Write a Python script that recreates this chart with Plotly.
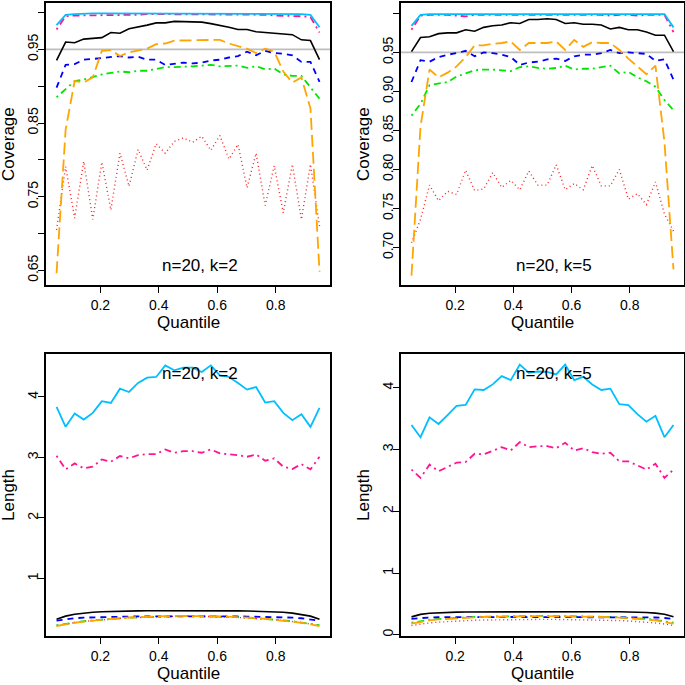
import plotly.graph_objects as go

# ---------------- data ----------------
quantile = [0.050, 0.081, 0.112, 0.143, 0.174, 0.205, 0.236, 0.267, 0.298, 0.329,
            0.360, 0.391, 0.422, 0.453, 0.484, 0.516, 0.547, 0.578, 0.609, 0.640,
            0.671, 0.702, 0.733, 0.764, 0.795, 0.826, 0.857, 0.888, 0.919, 0.950]

# Coverage, n=20, k=2
cov_k2_black = [0.935, 0.960, 0.959, 0.964, 0.965, 0.966, 0.973, 0.972, 0.978, 0.980,
                0.983, 0.986, 0.986, 0.988, 0.988, 0.988, 0.987, 0.985, 0.983, 0.980,
                0.977, 0.977, 0.974, 0.973, 0.971, 0.971, 0.970, 0.963, 0.962, 0.936]
cov_k2_red = [0.705, 0.791, 0.721, 0.798, 0.719, 0.797, 0.732, 0.809, 0.764, 0.814,
              0.786, 0.822, 0.809, 0.825, 0.830, 0.824, 0.832, 0.813, 0.833, 0.801,
              0.821, 0.762, 0.809, 0.738, 0.792, 0.728, 0.794, 0.719, 0.794, 0.710]
cov_k2_green = [0.885, 0.896, 0.907, 0.909, 0.913, 0.916, 0.918, 0.920, 0.919, 0.921,
                0.921, 0.923, 0.926, 0.926, 0.926, 0.927, 0.928, 0.929, 0.927, 0.927,
                0.928, 0.925, 0.927, 0.923, 0.924, 0.916, 0.914, 0.914, 0.898, 0.883]
cov_k2_blue = [0.898, 0.929, 0.930, 0.936, 0.937, 0.938, 0.939, 0.941, 0.939, 0.940,
               0.936, 0.936, 0.929, 0.931, 0.932, 0.931, 0.932, 0.935, 0.936, 0.939,
               0.941, 0.947, 0.942, 0.948, 0.945, 0.944, 0.942, 0.933, 0.933, 0.906]
cov_k2_orange = [0.646, 0.841, 0.907, 0.905, 0.912, 0.948, 0.949, 0.941, 0.946, 0.949,
                 0.951, 0.957, 0.958, 0.962, 0.962, 0.962, 0.963, 0.963, 0.963, 0.958,
                 0.954, 0.951, 0.945, 0.951, 0.947, 0.920, 0.905, 0.912, 0.870, 0.648]
cov_k2_pink = [0.977, 0.995, 0.996, 0.996, 0.997, 0.997, 0.997, 0.997, 0.997, 0.997,
               0.998, 0.998, 0.998, 0.998, 0.998, 0.998, 0.998, 0.998, 0.998, 0.998,
               0.997, 0.997, 0.997, 0.997, 0.996, 0.996, 0.996, 0.995, 0.994, 0.973]
cov_k2_cyan = [0.983, 0.997, 0.998, 0.999, 0.999, 0.999, 0.999, 0.999, 0.999, 0.999,
               0.999, 0.999, 0.999, 0.999, 0.999, 0.999, 0.999, 0.999, 0.999, 0.999,
               0.999, 0.999, 0.999, 0.999, 0.999, 0.999, 0.998, 0.998, 0.997, 0.980]

# Coverage, n=20, k=5
cov_k5_black = [0.951, 0.969, 0.970, 0.974, 0.975, 0.975, 0.979, 0.977, 0.982, 0.984,
                0.985, 0.988, 0.987, 0.992, 0.992, 0.993, 0.992, 0.987, 0.988, 0.986,
                0.986, 0.985, 0.980, 0.982, 0.979, 0.979, 0.976, 0.972, 0.972, 0.951]
cov_k5_red = [0.706, 0.736, 0.780, 0.760, 0.772, 0.768, 0.799, 0.773, 0.775, 0.796,
              0.777, 0.786, 0.774, 0.798, 0.780, 0.780, 0.806, 0.774, 0.782, 0.774,
              0.805, 0.779, 0.779, 0.800, 0.762, 0.769, 0.755, 0.784, 0.743, 0.721]
cov_k5_green = [0.869, 0.884, 0.908, 0.910, 0.912, 0.919, 0.923, 0.927, 0.928, 0.928,
                0.927, 0.926, 0.931, 0.932, 0.930, 0.929, 0.930, 0.933, 0.928, 0.929,
                0.929, 0.931, 0.933, 0.923, 0.925, 0.918, 0.913, 0.906, 0.889, 0.876]
cov_k5_blue = [0.912, 0.940, 0.938, 0.944, 0.947, 0.949, 0.952, 0.945, 0.950, 0.949,
               0.947, 0.944, 0.934, 0.937, 0.938, 0.941, 0.942, 0.939, 0.945, 0.947,
               0.947, 0.949, 0.953, 0.949, 0.950, 0.949, 0.948, 0.939, 0.941, 0.915]
cov_k5_orange = [0.664, 0.855, 0.928, 0.918, 0.924, 0.932, 0.944, 0.959, 0.959, 0.961,
                 0.962, 0.964, 0.953, 0.962, 0.962, 0.962, 0.964, 0.953, 0.966, 0.957,
                 0.963, 0.962, 0.962, 0.953, 0.942, 0.932, 0.922, 0.933, 0.835, 0.672]
cov_k5_pink = [0.979, 0.997, 0.998, 0.998, 0.998, 0.997, 0.996, 0.998, 0.998, 0.998,
               0.998, 0.998, 0.998, 0.998, 0.998, 0.998, 0.998, 0.998, 0.998, 0.998,
               0.998, 0.998, 0.997, 0.998, 0.998, 0.997, 0.998, 0.998, 0.998, 0.976]
cov_k5_cyan = [0.984, 0.998, 0.999, 0.999, 0.999, 0.999, 0.999, 0.999, 0.999, 0.999,
               0.999, 0.999, 0.999, 0.999, 0.999, 0.999, 0.999, 0.999, 0.999, 0.999,
               0.999, 0.999, 0.999, 0.999, 0.999, 0.999, 0.999, 0.999, 0.999, 0.982]

# Length, n=20, k=2
len_k2_black = [0.322, 0.375, 0.405, 0.425, 0.438, 0.447, 0.453, 0.457, 0.460, 0.462,
                0.464, 0.465, 0.466, 0.466, 0.467, 0.467, 0.466, 0.466, 0.465, 0.464,
                0.462, 0.460, 0.457, 0.453, 0.447, 0.438, 0.425, 0.405, 0.375, 0.322]
len_k2_red = [0.215, 0.245, 0.268, 0.287, 0.303, 0.317, 0.329, 0.339, 0.347, 0.354,
              0.360, 0.365, 0.369, 0.372, 0.374, 0.374, 0.372, 0.369, 0.365, 0.360,
              0.354, 0.347, 0.339, 0.329, 0.317, 0.303, 0.287, 0.268, 0.245, 0.215]
len_k2_green = [0.225, 0.250, 0.272, 0.290, 0.306, 0.320, 0.332, 0.342, 0.350, 0.357,
                0.363, 0.368, 0.372, 0.375, 0.377, 0.377, 0.375, 0.372, 0.368, 0.363,
                0.357, 0.350, 0.342, 0.332, 0.320, 0.306, 0.290, 0.272, 0.250, 0.225]
len_k2_blue = [0.300, 0.325, 0.340, 0.350, 0.356, 0.360, 0.363, 0.366, 0.368, 0.370,
               0.371, 0.372, 0.373, 0.373, 0.374, 0.374, 0.373, 0.373, 0.372, 0.371,
               0.370, 0.368, 0.366, 0.363, 0.360, 0.356, 0.350, 0.340, 0.325, 0.300]
len_k2_orange = [0.210, 0.240, 0.265, 0.285, 0.302, 0.318, 0.332, 0.343, 0.352, 0.360,
                 0.366, 0.371, 0.375, 0.378, 0.380, 0.380, 0.378, 0.375, 0.371, 0.366,
                 0.360, 0.352, 0.343, 0.332, 0.318, 0.302, 0.285, 0.265, 0.240, 0.210]
len_k2_pink = [3.027, 2.802, 2.901, 2.819, 2.846, 2.967, 2.929, 3.022, 2.984, 3.038,
               3.055, 3.055, 3.132, 3.077, 3.104, 3.104, 3.077, 3.132, 3.066, 3.055,
               3.038, 3.011, 3.049, 2.945, 2.984, 2.846, 2.808, 2.890, 2.802, 3.011]
len_k2_cyan = [3.835, 3.505, 3.725, 3.626, 3.736, 3.929, 3.901, 4.137, 4.082, 4.231,
               4.319, 4.330, 4.522, 4.440, 4.484, 4.484, 4.412, 4.522, 4.357, 4.330,
               4.231, 4.121, 4.165, 3.907, 3.929, 3.736, 3.615, 3.714, 3.505, 3.819]

# Length, n=20, k=5
len_k5_black = [0.290, 0.330, 0.348, 0.358, 0.364, 0.367, 0.369, 0.370, 0.370, 0.370,
                0.370, 0.370, 0.369, 0.369, 0.369, 0.369, 0.369, 0.369, 0.370, 0.370,
                0.371, 0.372, 0.373, 0.373, 0.372, 0.368, 0.362, 0.350, 0.332, 0.292]
len_k5_red = [0.150, 0.175, 0.192, 0.205, 0.215, 0.223, 0.230, 0.235, 0.239, 0.242,
              0.245, 0.247, 0.248, 0.249, 0.250, 0.250, 0.249, 0.248, 0.247, 0.245,
              0.242, 0.239, 0.235, 0.230, 0.223, 0.215, 0.205, 0.192, 0.175, 0.150]
len_k5_green = [0.195, 0.222, 0.242, 0.256, 0.267, 0.276, 0.283, 0.289, 0.293, 0.297,
                0.300, 0.302, 0.304, 0.305, 0.306, 0.306, 0.305, 0.304, 0.302, 0.300,
                0.297, 0.293, 0.289, 0.283, 0.276, 0.267, 0.256, 0.242, 0.222, 0.195]
len_k5_blue = [0.258, 0.272, 0.280, 0.284, 0.286, 0.287, 0.288, 0.288, 0.288, 0.288,
               0.288, 0.288, 0.288, 0.288, 0.288, 0.288, 0.288, 0.288, 0.288, 0.288,
               0.288, 0.288, 0.288, 0.288, 0.287, 0.286, 0.284, 0.280, 0.272, 0.258]
len_k5_orange = [0.180, 0.210, 0.232, 0.248, 0.260, 0.270, 0.278, 0.284, 0.289, 0.293,
                 0.296, 0.298, 0.300, 0.301, 0.302, 0.302, 0.301, 0.300, 0.298, 0.296,
                 0.293, 0.289, 0.284, 0.278, 0.270, 0.260, 0.248, 0.232, 0.210, 0.180]
len_k5_pink = [2.674, 2.540, 2.754, 2.647, 2.717, 2.786, 2.797, 2.930, 2.920, 2.973,
               3.037, 2.984, 3.118, 3.037, 3.053, 3.053, 3.021, 3.107, 2.984, 3.021,
               2.957, 2.930, 2.947, 2.807, 2.807, 2.743, 2.674, 2.770, 2.540, 2.674]
len_k5_cyan = [3.396, 3.198, 3.519, 3.412, 3.556, 3.706, 3.722, 3.973, 3.963, 4.053,
               4.187, 4.123, 4.374, 4.241, 4.262, 4.257, 4.214, 4.374, 4.123, 4.176,
               4.053, 3.963, 3.984, 3.733, 3.717, 3.572, 3.449, 3.545, 3.198, 3.396]

x_tick_vals = [0.2, 0.4, 0.6, 0.8]
x_tick_text = ["0.2", "0.4", "0.6", "0.8"]
cov_k2_tick_vals = [0.65, 0.70, 0.75, 0.80, 0.85, 0.90, 0.95, 1.00]
cov_k2_tick_text = ["0.65", "", "0.75", "", "0.85", "", "0.95", ""]
cov_k5_tick_vals = [0.70, 0.75, 0.80, 0.85, 0.90, 0.95, 1.00]
cov_k5_tick_text = ["0.70", "0.75", "0.80", "0.85", "0.90", "0.95", "1.00"]
len_k2_tick_vals = [1, 2, 3, 4]
len_k5_tick_vals = [0, 1, 2, 3, 4]
nominal_level = 0.95
panel_labels = ["n=20, k=2", "n=20, k=5", "n=20, k=2", "n=20, k=5"]

# ---------------- styles ----------------
FONT = "Liberation Sans, Arial, Helvetica, sans-serif"
styles = {
    "black": dict(color="#000000", dash="solid", width=1.6),
    "red": dict(color="#FF2020", dash="1px,3px", width=1.4),
    "green": dict(color="#00E600", dash="2px,4px,7px,4px", width=1.8),
    "blue": dict(color="#0000FF", dash="6px,5px", width=1.8),
    "orange": dict(color="#FFA500", dash="12px,5px", width=1.8),
    "pink": dict(color="#FF1493", dash="2px,4px,7px,4px", width=1.8),
    "cyan": dict(color="#00BFFF", dash="solid", width=1.8),
}
order = ["black", "red", "green", "blue", "orange", "pink", "cyan"]

panels = [
    dict(ax="", series=dict(black=cov_k2_black, red=cov_k2_red, green=cov_k2_green, blue=cov_k2_blue,
                            orange=cov_k2_orange, pink=cov_k2_pink, cyan=cov_k2_cyan),
         yrange=[0.630, 1.013], tv=cov_k2_tick_vals, tt=cov_k2_tick_text, label_y=0.657,
         xdom=[0.0672, 0.4818], ydom=[0.5839, 0.9956], ref=True),
    dict(ax="2", series=dict(black=cov_k5_black, red=cov_k5_red, green=cov_k5_green, blue=cov_k5_blue,
                             orange=cov_k5_orange, pink=cov_k5_pink, cyan=cov_k5_cyan),
         yrange=[0.652, 1.0132], tv=cov_k5_tick_vals, tt=cov_k5_tick_text, label_y=0.6765,
         xdom=[0.5854, 0.9985], ydom=[0.5839, 0.9956], ref=True),
    dict(ax="3", series=dict(black=len_k2_black, red=len_k2_red, green=len_k2_green, blue=len_k2_blue,
                             orange=len_k2_orange, pink=len_k2_pink, cyan=len_k2_cyan),
         yrange=[0.046, 4.71], tv=len_k2_tick_vals, tt=[str(v) for v in len_k2_tick_vals], label_y=4.387,
         xdom=[0.0672, 0.4818], ydom=[0.0715, 0.4832], ref=False),
    dict(ax="4", series=dict(black=len_k5_black, red=len_k5_red, green=len_k5_green, blue=len_k5_blue,
                             orange=len_k5_orange, pink=len_k5_pink, cyan=len_k5_cyan),
         yrange=[-0.02, 4.545], tv=len_k5_tick_vals, tt=[str(v) for v in len_k5_tick_vals], label_y=4.227,
         xdom=[0.5854, 0.9985], ydom=[0.0715, 0.4832], ref=False),
]

fig = go.Figure()
layout_axes = {}
annotations = []
shapes = []

for p, label in zip(panels, panel_labels):
    xa = "x" + p["ax"]
    ya = "y" + p["ax"]
    for name in order:
        st = styles[name]
        fig.add_trace(go.Scatter(
            x=quantile, y=p["series"][name], mode="lines", xaxis=xa, yaxis=ya,
            line=dict(color=st["color"], dash=st["dash"], width=st["width"]),
            showlegend=False, hoverinfo="skip"))
    if p["ref"]:
        shapes.append(dict(type="line", xref=xa + " domain", x0=0, x1=1,
                           yref=ya, y0=nominal_level, y1=nominal_level,
                           line=dict(color="#BEBEBE", width=1.6), layer="below"))
    layout_axes["xaxis" + p["ax"]] = dict(
        domain=p["xdom"], anchor=ya, range=[0.014, 0.986],
        tickmode="array", tickvals=x_tick_vals, ticktext=x_tick_text,
        ticks="outside", ticklen=6, tickwidth=1, tickcolor="#000",
        showline=True, mirror=True, linecolor="#000", linewidth=1.5,
        showgrid=False, zeroline=False, tickfont=dict(size=14, color="#000", family=FONT))
    layout_axes["yaxis" + p["ax"]] = dict(
        domain=p["ydom"], anchor=xa, range=p["yrange"],
        tickmode="array", tickvals=p["tv"], ticktext=p["tt"], tickangle=-90,
        ticklabelstandoff=-5,
        ticks="outside", ticklen=6, tickwidth=1, tickcolor="#000",
        showline=True, mirror=True, linecolor="#000", linewidth=1.5,
        showgrid=False, zeroline=False, tickfont=dict(size=14, color="#000", family=FONT))
    annotations.append(dict(text=label, xref=xa, yref=ya, x=0.54, y=p["label_y"],
                            showarrow=False, font=dict(size=17, color="#000", family=FONT),
                            xanchor="center", yanchor="middle"))

# axis titles
for xc, yc in [(0.2745, 0.5285), (0.7920, 0.5285), (0.2745, 0.0175), (0.7920, 0.0175)]:
    annotations.append(dict(text="Quantile", xref="paper", yref="paper", x=xc, y=yc,
                            showarrow=False, font=dict(size=17, color="#000", family=FONT),
                            xanchor="center", yanchor="middle"))
for xc, yc, t in [(0.0131, 0.7898, "Coverage"), (0.5314, 0.7898, "Coverage"),
                  (0.0131, 0.2774, "Length"), (0.5314, 0.2774, "Length")]:
    annotations.append(dict(text=t, xref="paper", yref="paper", x=xc, y=yc, textangle=-90,
                            showarrow=False, font=dict(size=17, color="#000", family=FONT),
                            xanchor="center", yanchor="middle"))

fig.update_layout(
    width=685, height=685, margin=dict(l=0, r=0, t=0, b=0),
    paper_bgcolor="white", plot_bgcolor="white",
    font=dict(family=FONT, color="#000"),
    annotations=annotations, shapes=shapes, showlegend=False,
    **layout_axes)

fig.write_html("out.html", config={"displayModeBar": False},
               post_script="document.body.style.margin='0px';document.body.style.padding='0px';")
